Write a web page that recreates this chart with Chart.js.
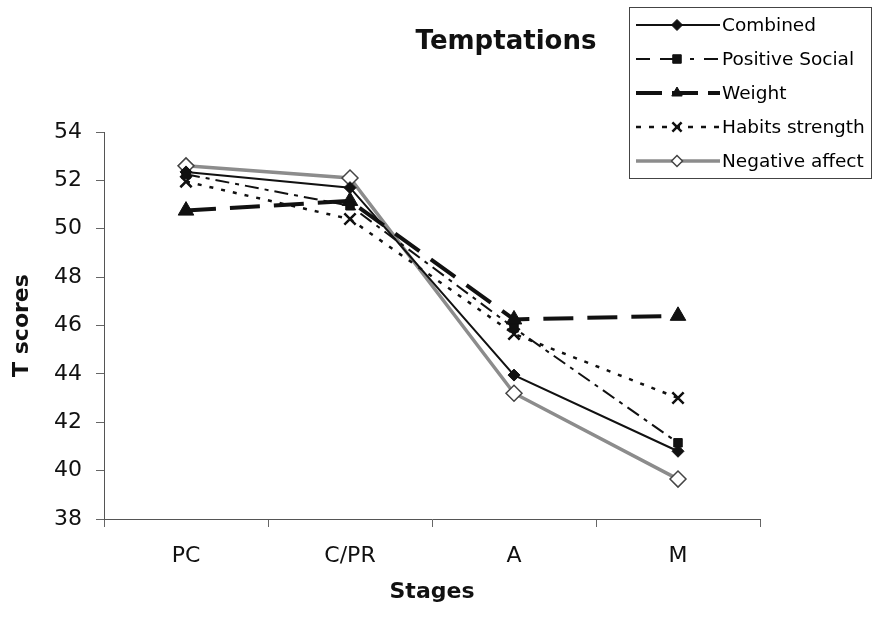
<!DOCTYPE html>
<html>
<head>
<meta charset="utf-8">
<title>Temptations</title>
<script src="https://cdn.jsdelivr.net/npm/chart.js@4.4.0/dist/chart.umd.min.js"></script>
<style>
  body { margin: 0; background: #fff; }
  canvas { display: block; }
</style>
</head>
<body>
<canvas id="temptations-chart" width="874" height="633"></canvas>
<script>
const stages = ["PC", "C/PR", "A", "M"];

const combined = [52.35, 51.7, 43.95, 40.8];
const positiveSocial = [52.25, 50.95, 45.9, 41.15];
const weight = [50.75, 51.15, 46.25, 46.4];
const habitsStrength = [51.95, 50.4, 45.65, 43.0];
const negativeAffect = [52.6, 52.1, 43.2, 39.65];

const yTicks = [38, 40, 42, 44, 46, 48, 50, 52, 54];

const FONT = "'DejaVu Sans', sans-serif";

// title and boxed legend on the top right, drawn after the chart
const extrasPlugin = {
  id: "extras",
  afterDraw(chart) {
    const ctx = chart.ctx;
    ctx.save();

    ctx.fillStyle = "#111";
    ctx.font = "bold 26px " + FONT;
    ctx.textAlign = "center";
    ctx.textBaseline = "middle";
    ctx.fillText("Temptations", 506, 42);

    ctx.strokeStyle = "#444";
    ctx.lineWidth = 1;
    ctx.strokeRect(629.5, 7.5, 242, 171);

    ctx.font = "18.5px " + FONT;
    ctx.textAlign = "left";

    chart.data.datasets.forEach((ds, i) => {
      const y = 25 + i * 34;

      ctx.save();
      ctx.strokeStyle = ds.borderColor;
      ctx.lineWidth = ds.borderWidth;
      ctx.setLineDash(ds.legendDash || ds.borderDash || []);
      ctx.beginPath();
      ctx.moveTo(636, y);
      ctx.lineTo(720, y);
      ctx.stroke();
      ctx.restore();

      ctx.save();
      ctx.fillStyle = ds.pointBackgroundColor;
      ctx.strokeStyle = ds.pointBorderColor;
      ctx.lineWidth = ds.pointBorderWidth;
      Chart.helpers.drawPoint(ctx, {
        pointStyle: ds.pointStyle,
        radius: ds.legendRadius,
        rotation: 0,
        borderWidth: ds.pointBorderWidth,
      }, 677, y);
      ctx.restore();

      ctx.fillStyle = "#000";
      ctx.fillText(ds.label, 722, y + 1);
    });

    ctx.restore();
  },
};

const ctx = document.getElementById("temptations-chart");

new Chart(ctx, {
  type: "line",
  data: {
    labels: stages,
    datasets: [
      {
        label: "Combined",
        data: combined,
        borderColor: "#111",
        borderWidth: 2,
        pointStyle: "rectRot",
        pointRadius: 6,
        legendRadius: 5.5,
        pointBackgroundColor: "#111",
        pointBorderColor: "#111",
        pointBorderWidth: 1,
      },
      {
        label: "Positive Social",
        data: positiveSocial,
        borderColor: "#111",
        borderWidth: 2,
        borderDash: [14, 6, 4, 6],
        legendDash: [14, 10, 20, 10, 4, 10],
        pointStyle: "rect",
        pointRadius: 6,
        legendRadius: 6,
        pointBackgroundColor: "#111",
        pointBorderColor: "#111",
        pointBorderWidth: 1,
      },
      {
        label: "Weight",
        data: weight,
        borderColor: "#111",
        borderWidth: 4,
        borderDash: [30, 14],
        legendDash: [26, 10],
        pointStyle: "triangle",
        pointRadius: 9,
        legendRadius: 6,
        pointBackgroundColor: "#111",
        pointBorderColor: "#111",
        pointBorderWidth: 1,
      },
      {
        label: "Habits strength",
        data: habitsStrength,
        borderColor: "#111",
        borderWidth: 2.5,
        borderDash: [4, 8],
        legendDash: [5, 8],
        pointStyle: "crossRot",
        pointRadius: 8,
        legendRadius: 6.5,
        pointBackgroundColor: "#111",
        pointBorderColor: "#111",
        pointBorderWidth: 2.5,
      },
      {
        label: "Negative affect",
        data: negativeAffect,
        borderColor: "#8c8c8c",
        borderWidth: 3.5,
        pointStyle: "rectRot",
        pointRadius: 8,
        legendRadius: 5.5,
        pointBackgroundColor: "#fff",
        pointBorderColor: "#444",
        pointBorderWidth: 1.5,
      },
    ],
  },
  options: {
    responsive: false,
    animation: false,
    layout: {
      padding: { top: 132, right: 114, bottom: 0, left: 0 },
    },
    plugins: {
      legend: { display: false },
      tooltip: { enabled: false },
    },
    scales: {
      x: {
        type: "category",
        offset: true,
        grid: {
          offset: true,
          drawOnChartArea: false,
          drawTicks: true,
          tickLength: 8,
          color: "#666",
        },
        border: { display: true, color: "#555", width: 1 },
        ticks: {
          color: "#111",
          font: { family: FONT, size: 22 },
          padding: 16,
          maxRotation: 0,
        },
        title: {
          display: true,
          text: "Stages",
          color: "#111",
          font: { family: FONT, size: 22, weight: "bold" },
          padding: { top: 0, bottom: 28 },
        },
        afterFit(scale) {
          scale.height = 114;
        },
      },
      y: {
        min: yTicks[0],
        max: yTicks[yTicks.length - 1],
        afterBuildTicks(scale) {
          scale.ticks = yTicks.map((v) => ({ value: v }));
        },
        grid: {
          drawOnChartArea: false,
          drawTicks: true,
          tickLength: 8,
          color: "#666",
        },
        border: { display: true, color: "#555", width: 1 },
        ticks: {
          color: "#111",
          font: { family: FONT, size: 22 },
          padding: 14,
        },
        title: {
          display: true,
          text: "T scores",
          color: "#111",
          font: { family: FONT, size: 22, weight: "bold" },
          padding: { top: 9, bottom: 0 },
        },
        afterFit(scale) {
          scale.width = 104;
        },
      },
    },
  },
  plugins: [extrasPlugin],
});
</script>
</body>
</html>
